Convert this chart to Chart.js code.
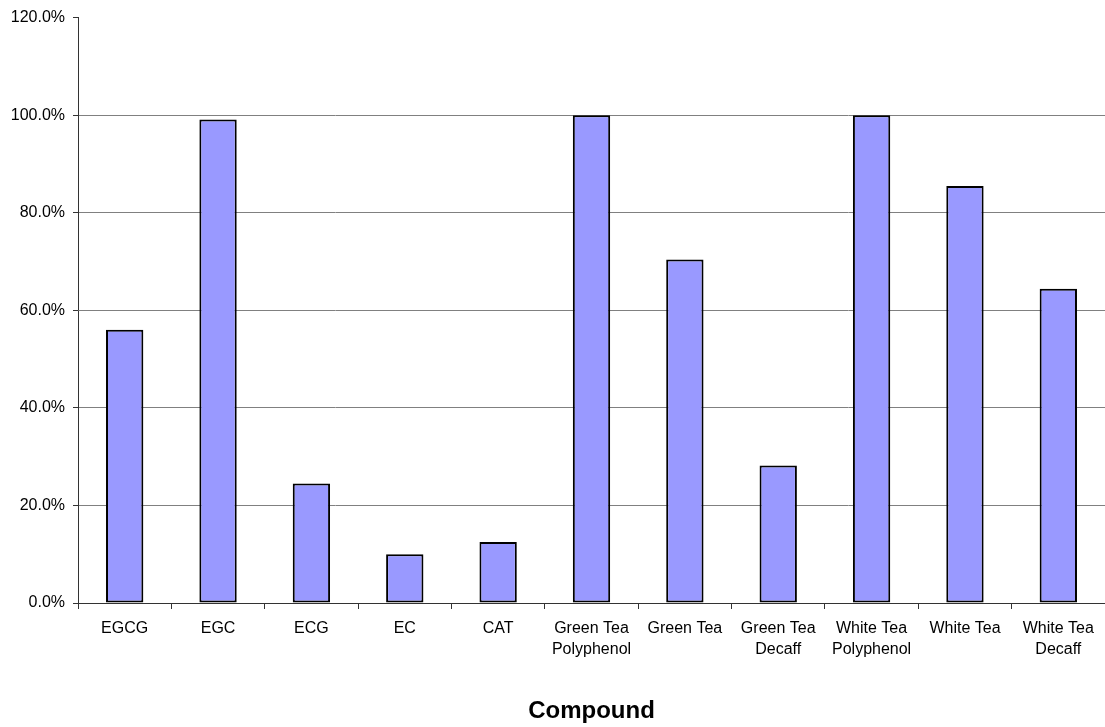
<html>
  <head>
    <title>Compound</title>
    <script src="https://cdn.jsdelivr.net/npm/chart.js@4.4.1/dist/chart.umd.min.js"></script>
    <style>
      body { margin: 0; background: #fff; }
    </style>
  </head>
  <body>
    <canvas id="bar-chart" width="1105" height="727"></canvas>
  </body>
  <script>
    // categories and values (percent)
    var labels = [
      'EGCG', 'EGC', 'ECG', 'EC', 'CAT',
      ['Green Tea', 'Polyphenol'], 'Green Tea', ['Green Tea', 'Decaff'],
      ['White Tea', 'Polyphenol'], 'White Tea', ['White Tea', 'Decaff']
    ];
    var values = [56.0, 99.1, 24.5, 10.0, 12.5, 100.0, 70.4, 28.2, 100.0, 85.5, 64.4];
    var yTicks = [0, 20, 40, 60, 80, 100, 120];

    var fontFam = '"Liberation Sans", Arial, sans-serif';

    new Chart(document.getElementById('bar-chart'), {
      type: 'bar',
      data: {
        labels: labels,
        datasets: [{
          data: values,
          backgroundColor: '#9999ff',
          borderColor: '#000',
          borderWidth: 2,
          borderSkipped: false,
          categoryPercentage: 1,
          barPercentage: 0.4
        }]
      },
      options: {
        responsive: false,
        animation: false,
        layout: { padding: { top: 16, right: 0, left: 0, bottom: 0 } },
        plugins: { legend: { display: false }, tooltip: { enabled: false } },
        scales: {
          x: {
            afterFit: function (s) { s.height = 124; },
            grid: { offset: true, drawOnChartArea: false, tickLength: 6, color: '#333' },
            border: { color: '#333', width: 1 },
            ticks: { color: '#000', padding: 9, maxRotation: 0, autoSkip: false,
                     font: { family: fontFam, size: 16, lineHeight: 1.3 } },
            title: { display: true, text: 'Compound', color: '#000',
                     padding: { top: 0, bottom: 1 },
                     font: { family: fontFam, size: 24, weight: 'bold' } }
          },
          y: {
            min: 0,
            max: 120,
            afterFit: function (s) { s.width = 78; },
            afterBuildTicks: function (s) { s.ticks = yTicks.map(function (v) { return { value: v }; }); },
            grid: {
              tickLength: 5,
              tickColor: '#333',
              color: function (c) { return (c.tick && (c.tick.value === 120 || c.tick.value === 0)) ? 'rgba(0,0,0,0)' : '#808080'; }
            },
            border: { color: '#333', width: 1 },
            ticks: {
              color: '#000',
              padding: 8,
              font: { family: fontFam, size: 16 },
              callback: function (v) { return v.toFixed(1) + '%'; }
            }
          }
        }
      }
    });
  </script>
</html>
